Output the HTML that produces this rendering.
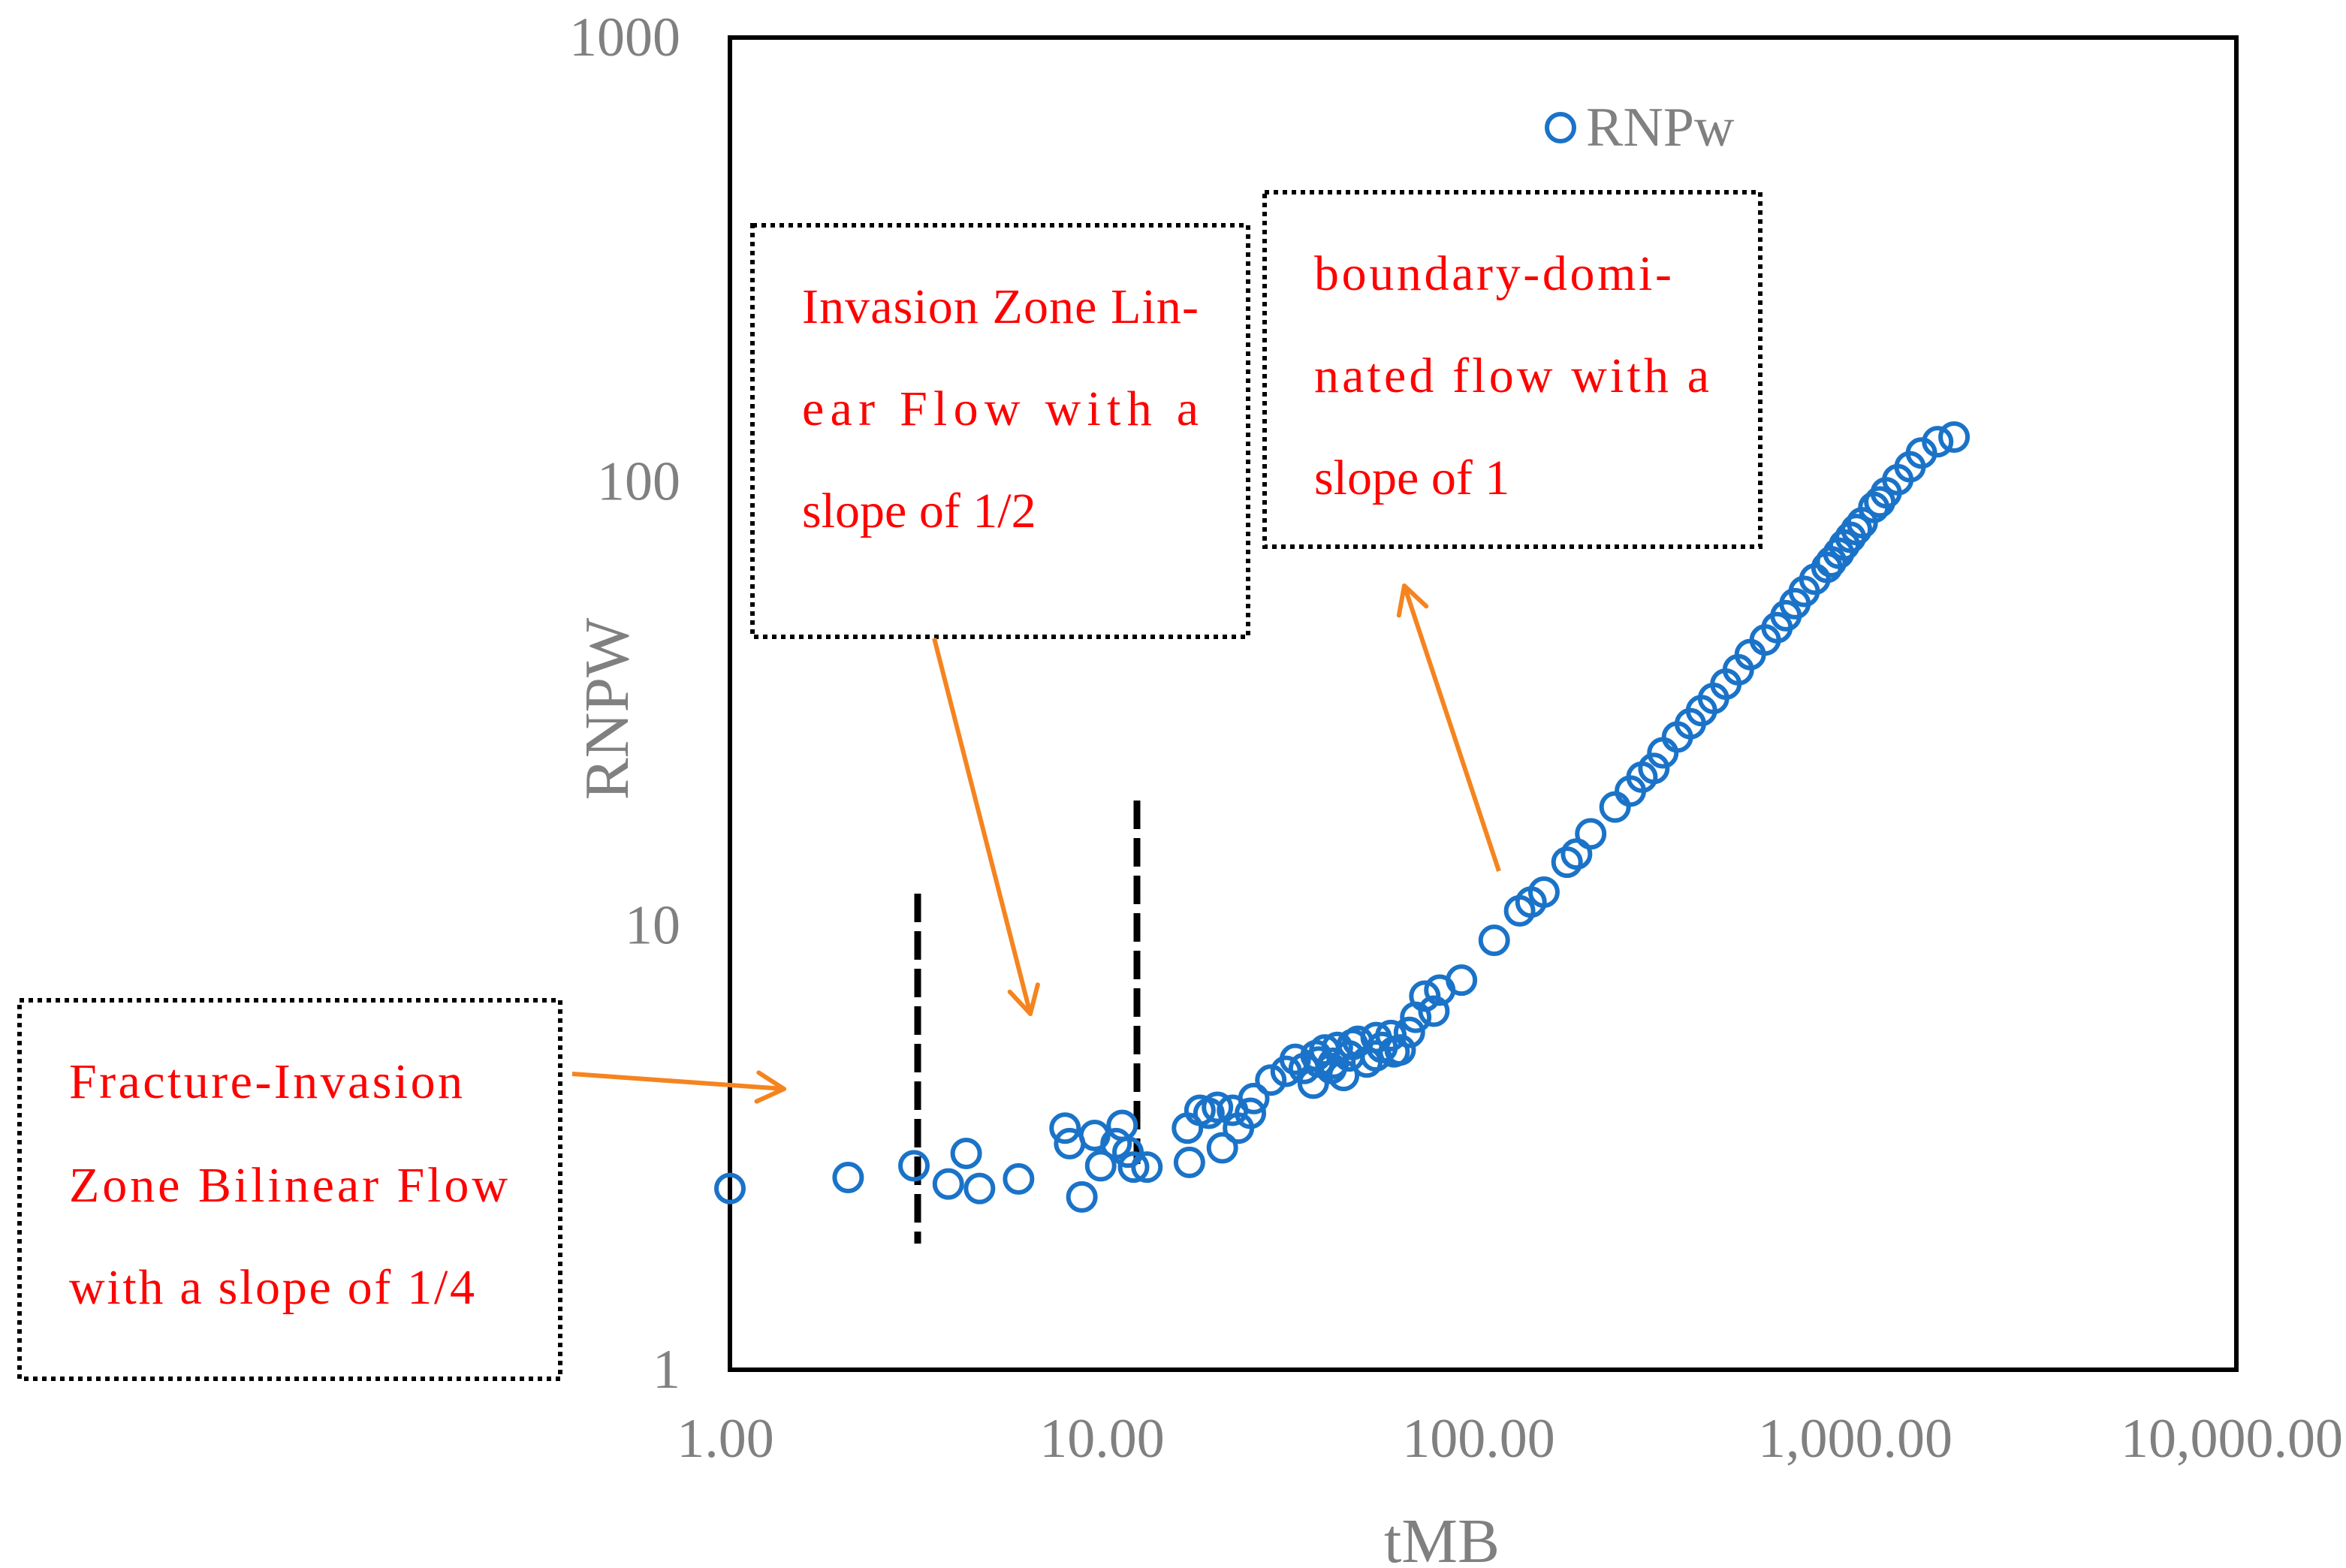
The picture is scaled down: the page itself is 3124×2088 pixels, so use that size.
<!DOCTYPE html>
<html><head><meta charset="utf-8"><style>
html,body{margin:0;padding:0;background:#fff}
svg{display:block}
text{font-family:"Liberation Serif",serif}
</style></head><body>
<svg id="chart" width="3124" height="2088" viewBox="0 0 3124 2088" xmlns="http://www.w3.org/2000/svg">
<g id="plot"></g>
</svg>
<script>
const xTicks = [1, 10, 100, 1000, 10000];
const xTickLabels = ["1.00", "10.00", "100.00", "1,000.00", "10,000.00"];
const yTicks = [1, 10, 100, 1000];
const yTickLabels = ["1", "10", "100", "1000"];
const tmb = [1.0,2.06,3.08,3.8,4.24,4.6,5.84,7.76,7.98,8.6,9.3,9.65,10.6,11.0,11.4,11.8,12.8,16.6,16.4,17.7,18.7,19.7,20.3,21.6,22.4,24.1,24.6,27.3,30.0,31.7,33.5,35.4,36.6,38.0,39.5,41.0,42.6,44.1,46.5,49.1,51.9,53.9,56.9,60.2,63.7,66.2,70.0,74.0,76.7,87.6,107,125,134,145,167,177,193,224,246,264,284,300,328,355,380,409,441,476,512,561,603,637,673,712,760,818,879,945,1015,1090,1175,1262,1360,1458,1610,1780,36,40,45,52,58,840,910,980,1130];
const rnpw = [2.56,2.71,2.88,2.62,3.07,2.56,2.69,3.5,3.23,2.45,3.37,2.88,3.23,3.55,3.09,2.86,2.86,2.93,3.5,3.84,3.78,3.9,3.16,3.84,3.5,3.78,4.08,4.49,4.70,5.0,4.77,4.42,4.93,5.25,4.77,5.32,4.6,5.09,5.49,4.93,5.09,5.32,5.66,5.25,5.75,6.22,6.94,6.42,7.16,7.54,9.27,10.8,11.3,11.9,13.9,14.5,16.1,18.5,20.1,21.6,22.6,24.5,26.6,28.5,30.5,32.5,35.0,37.7,40.8,44.0,46.9,49.9,53.1,56.6,60.3,64.1,69.0,74.9,80.8,87.5,94.4,101,108,116,123,126,5.1,4.9,5.4,5.6,5.2,66,72,78,90];

const L=972,R=2978,T=50,B=1824;
const NS="http://www.w3.org/2000/svg";
const g=document.getElementById('plot');
function xs(v){return L+(Math.log10(v)-0)/4*(R-L);}
function ys(v){return B-(Math.log10(v)-0)/3*(B-T);}
function mk(tag,attrs,parent){const e=document.createElementNS(NS,tag);for(const k in attrs)e.setAttribute(k,attrs[k]);(parent||g).appendChild(e);return e;}

let frame=mk('rect',{x:L,y:T,width:R-L,height:B-T,fill:'none',stroke:'#000','stroke-width':6});



xTicks.forEach((v,i)=>{
  const t=mk('text',{x:xs(v)-6,y:1940,'font-size':74,fill:'#808080','text-anchor':'middle'});
  t.textContent=xTickLabels[i];
  
  
});
yTicks.forEach((v,i)=>{
  const t=mk('text',{x:906,y:ys(v)+24,'font-size':74,fill:'#808080','text-anchor':'end'});
  t.textContent=yTickLabels[i];
  
  
});
let xt=mk('text',{x:1920,y:2080,'font-size':84,fill:'#808080','text-anchor':'middle'});
xt.textContent='tMB';


let yt=mk('text',{x:0,y:0,'font-size':84,fill:'#808080','text-anchor':'middle',transform:'translate(836,944) rotate(-90)'});
yt.textContent='RNPW';



[[1222,1190,1656],[1514,1066,1550]].forEach(a=>{
  const l=mk('line',{x1:a[0],x2:a[0],y1:a[1],y2:a[2],stroke:'#000','stroke-width':9,'stroke-dasharray':'38 12'});
  
  
});

const pts=mk('g',{});


tmb.forEach((v,i)=>{
  const c=mk('circle',{cx:xs(v),cy:ys(rnpw[i]),r:18,fill:'none',stroke:'#1a73c8','stroke-width':6},pts);
  
  
});

let lg=mk('g',{});


mk('circle',{cx:2078,cy:170,r:18,fill:'none',stroke:'#1a73c8','stroke-width':6},lg);
let lt=mk('text',{x:2112,y:194,'font-size':74,fill:'#808080'},lg);
lt.textContent='RNPw';

function box(name,x,y,w,h,lines){
  const bg=mk('g',{});
  
  
  mk('rect',{x:x,y:y,width:w,height:h,fill:'#fff',stroke:'#000','stroke-width':6,'stroke-dasharray':'6 6'},bg);
  lines.forEach(l=>{
    const a={x:l[0],y:l[1],'font-size':66,fill:'#ff0000'};
    if(l[3]){a.textLength=l[3];a.lengthAdjust='spacing';}
    const t=mk('text',a,bg);t.textContent=l[2];
  });
}
box('invasion-zone-annotation',1002,300,660,548,[[1068,430,'Invasion Zone Lin-',528],[1068,566,'ear Flow with a',528],[1068,702,'slope of 1/2',0]]);
box('boundary-dominated-annotation',1684,256,660,472,[[1750,386,'boundary-domi-',476],[1750,522,'nated flow with a',526],[1750,658,'slope of 1',0]]);
box('bilinear-flow-annotation',26,1332,720,504,[[92,1462,'Fracture-Invasion',524],[92,1600,'Zone Bilinear Flow',584],[92,1736,'with a slope of 1/4',540]]);

function arrow(name,x1,y1,x2,y2){
  const ag=mk('g',{});
  
  
  const col='#f5841f';
  mk('line',{x1:x1,y1:y1,x2:x2,y2:y2,stroke:col,'stroke-width':6},ag);
  const ang=Math.atan2(y2-y1,x2-x1),hl=40,sp=0.5;
  [ang+Math.PI-sp,ang+Math.PI+sp].forEach(a=>{
    mk('line',{x1:x2,y1:y2,x2:x2+hl*Math.cos(a),y2:y2+hl*Math.sin(a),stroke:col,'stroke-width':6,'stroke-linecap':'round'},ag);
  });
}
arrow('arrow-to-half-slope',1244,850,1372,1350);
arrow('arrow-to-unit-slope',1996,1160,1870,780);
arrow('arrow-to-quarter-slope',762,1430,1044,1450);
</script>
</body></html>
